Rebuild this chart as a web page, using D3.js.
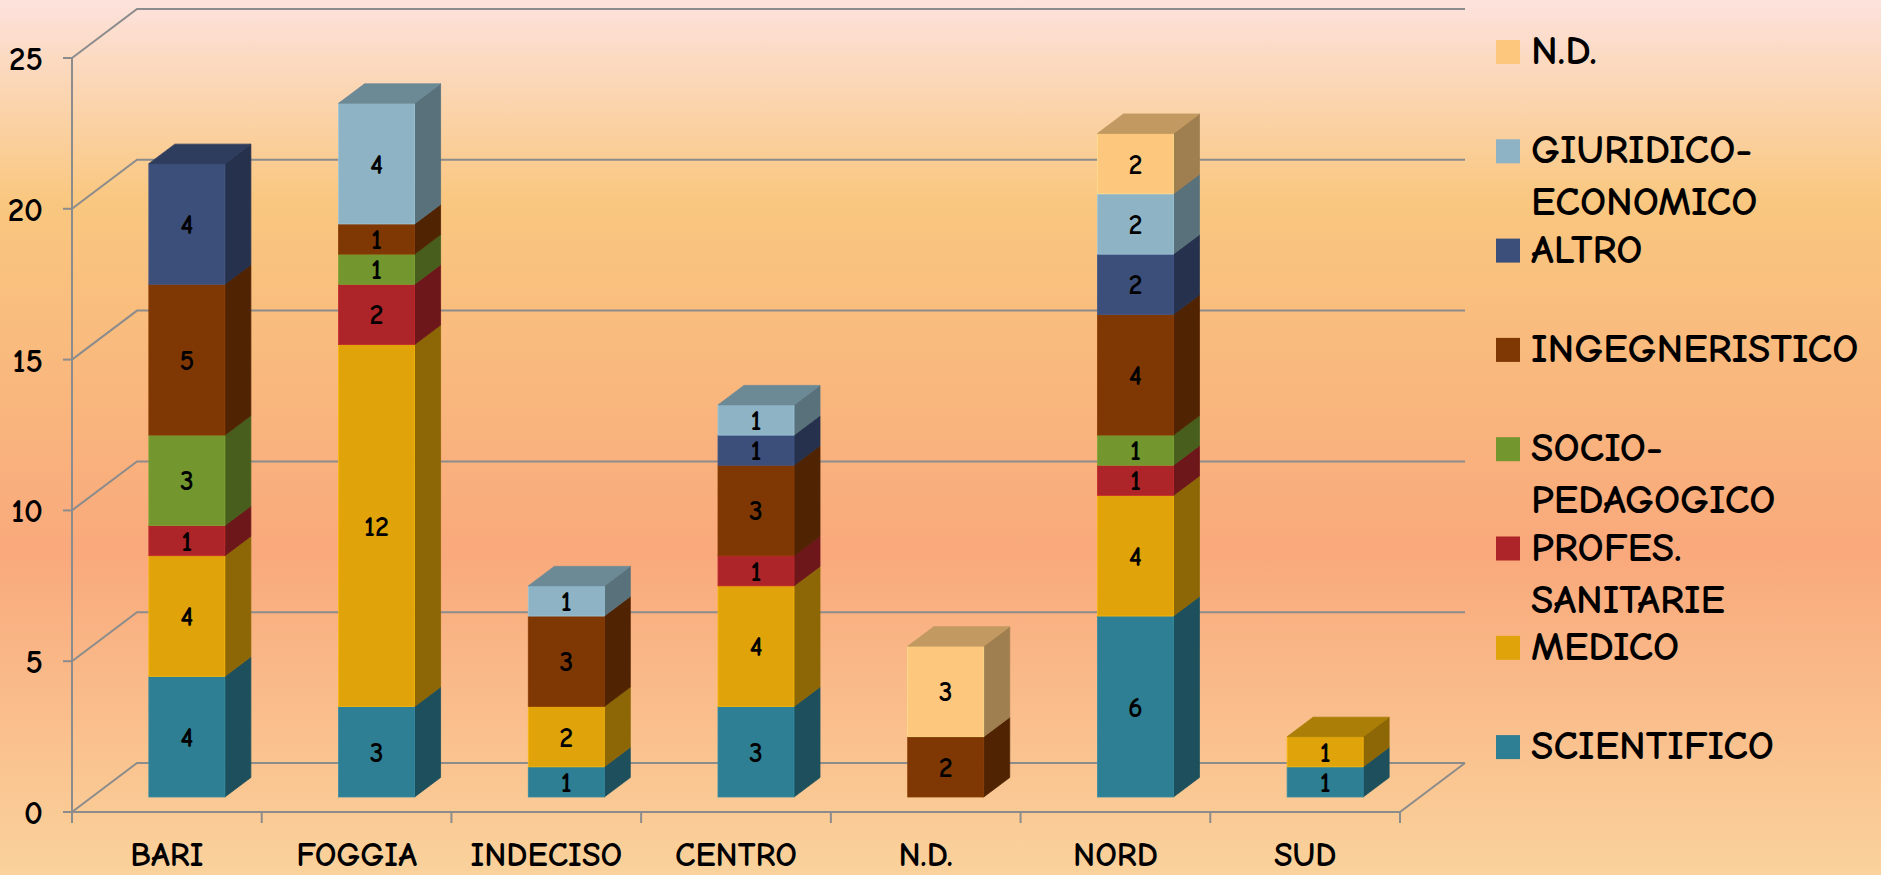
<!DOCTYPE html>
<html>
<head>
<meta charset="utf-8">
<script src="https://cdn.jsdelivr.net/npm/d3@7"></script>
<style>
  html, body { margin: 0; padding: 0; }
  body { width: 1881px; height: 875px; overflow: hidden; }
  svg { display: block; }
  text { font-family: 'Comic Sans MS', 'Comic Neue', 'DejaVu Sans', sans-serif; fill: #000; font-weight: 700; }
</style>
</head>
<body>
<svg id="chart" width="1881" height="875"></svg>
<script>
// Regions (x axis) and study-area series, stacked bottom to top
const categories = ["BARI", "FOGGIA", "INDECISO", "CENTRO", "N.D.", "NORD", "SUD"];
const seriesNames = ["SCIENTIFICO", "MEDICO", "PROFES. SANITARIE", "SOCIO-PEDAGOGICO",
                     "INGEGNERISTICO", "ALTRO", "GIURIDICO-ECONOMICO", "N.D."];
const seriesColors = ["#2E7F93", "#E0A40A", "#AE2529", "#73962E",
                      "#7F3704", "#3C4E7A", "#8DB3C4", "#FDC87E"];

const scientifico = [4, 3, 1, 3, 0, 6, 1];
const medico      = [4, 12, 2, 4, 0, 4, 1];
const profes      = [1, 2, 0, 1, 0, 1, 0];
const socio       = [3, 1, 0, 0, 0, 1, 0];
const ingegn      = [5, 1, 3, 3, 2, 4, 0];
const altro       = [4, 0, 0, 1, 0, 2, 0];
const giuridico   = [0, 4, 1, 1, 0, 2, 0];
const nd          = [0, 0, 0, 0, 3, 2, 0];
const seriesValues = [scientifico, medico, profes, socio, ingegn, altro, giuridico, nd];

const yTicks = [0, 5, 10, 15, 20, 25];

const svg = d3.select("#chart");

// background gradient
const defs = svg.append("defs");
const grad = defs.append("linearGradient").attr("id", "bg")
  .attr("x1", 0).attr("y1", 0).attr("x2", 0).attr("y2", 1);
[[0, "#FDE2DD"], [0.23, "#F9C77F"], [0.63, "#F9A97C"], [1, "#FAD29B"]]
  .forEach(([o, c]) => grad.append("stop").attr("offset", o).attr("stop-color", c));
svg.append("rect").attr("width", 1881).attr("height", 875).attr("fill", "url(#bg)");

// plot frame and oblique projection of the depth axis
const plotLeft = 72, plotRight = 1400, plotBottom = 812, plotTop = 58;
const depthX = 65, depthY = 49;          // full depth of the box
const barDX = 26, barDY = 19.5;          // depth of each column
const barInX = 20, barInY = 15;          // columns sit this far back
const barW = 76;

const x = d3.scaleBand().domain(categories).range([plotLeft, plotRight]).padding(0);
const y = d3.scaleLinear().domain([0, 25]).range([plotBottom, plotTop]);

const axisColor = "#8C8C8C";
const grid = svg.append("g").attr("stroke", axisColor).attr("stroke-width", 2).attr("fill", "none");

// back wall gridlines + left wall diagonals
yTicks.forEach(v => {
  const yy = y(v);
  grid.append("path").attr("d",
    `M${plotLeft},${yy} L${plotLeft + depthX},${yy - depthY} L${plotRight + depthX},${yy - depthY}`);
});
// floor front edge and right edge
grid.append("path").attr("d",
  `M${plotLeft},${plotBottom} L${plotRight},${plotBottom} L${plotRight + depthX},${plotBottom - depthY}`);
// vertical axis
grid.append("line").attr("x1", plotLeft).attr("x2", plotLeft).attr("y1", plotTop).attr("y2", plotBottom + 11);
// y ticks
yTicks.forEach(v => {
  grid.append("line").attr("x1", plotLeft - 9).attr("x2", plotLeft).attr("y1", y(v)).attr("y2", y(v));
});
// x ticks at band boundaries
categories.forEach(c => {
  const xx = x(c) + x.bandwidth();
  grid.append("line").attr("x1", xx).attr("x2", xx).attr("y1", plotBottom).attr("y2", plotBottom + 11);
});

// y tick labels
svg.append("g").selectAll("text").data(yTicks).join("text")
  .attr("x", 43).attr("y", d => y(d) + 12)
  .attr("text-anchor", "end").attr("font-size", 33)
  .text(d => d);

// x labels
svg.append("g").selectAll("text").data(categories).join("text")
  .attr("x", d => x(d) + x.bandwidth() / 2).attr("y", 866)
  .attr("text-anchor", "middle").attr("font-size", 34)
  .text(d => d);

// stacked data
const rows = categories.map((c, i) => {
  const r = { cat: c };
  seriesNames.forEach((s, k) => r[s] = seriesValues[k][i]);
  return r;
});
const stacked = d3.stack().keys(seriesNames)(rows);

const bars = svg.append("g");
categories.forEach((c, i) => {
  const x0 = x(c) + x.bandwidth() / 2 - barW / 2 + barInX;
  const segs = stacked.map((layer, k) => ({ k, v0: layer[i][0], v1: layer[i][1] }))
                      .filter(s => s.v1 > s.v0);
  const topSeg = segs[segs.length - 1];
  segs.forEach(s => {
    const col = d3.color(seriesColors[s.k]);
    const side = col.darker(1.3).formatHex();
    const topC = col.darker(0.75).formatHex();
    const edge = col.brighter(0.3).formatHex();
    const yb = y(s.v0) - barInY, yt = y(s.v1) - barInY;
    const g = bars.append("g");
    // side face
    g.append("path").attr("fill", side).attr("stroke", side).attr("stroke-width", 0.8)
      .attr("d", `M${x0 + barW},${yb} L${x0 + barW + barDX},${yb - barDY} L${x0 + barW + barDX},${yt - barDY} L${x0 + barW},${yt} Z`);
    // front face
    g.append("rect").attr("x", x0).attr("y", yt).attr("width", barW).attr("height", yb - yt)
      .attr("fill", col.formatHex()).attr("stroke", edge).attr("stroke-width", 0.8);
    if (s === topSeg) {
      g.append("path").attr("fill", topC).attr("stroke", topC).attr("stroke-width", 0.8)
        .attr("d", `M${x0},${yt} L${x0 + barDX},${yt - barDY} L${x0 + barW + barDX},${yt - barDY} L${x0 + barW},${yt} Z`);
    }
    g.append("text").attr("x", x0 + barW / 2).attr("y", (yb + yt) / 2 + 10)
      .attr("text-anchor", "middle").attr("font-size", 28)
      .text(s.v1 - s.v0);
  });
});

// legend, top entry is the last stacked series
const legend = svg.append("g");
const legendOrder = seriesNames.map((s, k) => k).reverse();
legendOrder.forEach((k, j) => {
  const cy = 52 + j * 99.3;
  legend.append("rect").attr("x", 1496).attr("y", cy - 12).attr("width", 24).attr("height", 24)
    .attr("fill", seriesColors[k]);
  const lines = seriesNames[k].replace("-", "-\n").replace(". ", ".\n").split("\n");
  const t = legend.append("text").attr("x", 1531).attr("y", cy + 12).attr("font-size", 41);
  lines.forEach((ln, li) => {
    t.append("tspan").attr("x", 1531).attr("dy", li === 0 ? 0 : 52).text(ln);
  });
});
</script>
</body>
</html>
